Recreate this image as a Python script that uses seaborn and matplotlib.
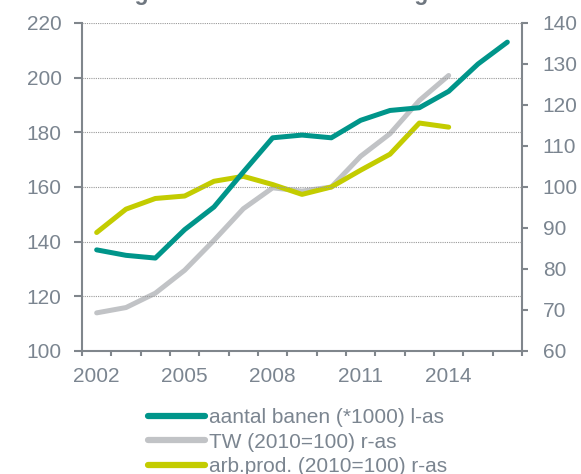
import matplotlib
matplotlib.use("Agg")
import matplotlib.pyplot as plt
import seaborn as sns
import pandas as pd
from matplotlib.lines import Line2D

years = list(range(2002, 2017))
banen = [137, 135, 134, 144.4, 152.7, 165.5, 178, 179, 178, 184.4, 188, 189, 195, 205, 213]
tw = [69.3, 70.6, 74.1, 79.7, 87, 94.7, 99.8, 99, 100, 107.5, 113, 121.1, 127.2]
arbprod = [88.9, 94.6, 97.2, 97.8, 101.4, 102.6, 100.6, 98.2, 100, 104.1, 108, 115.6, 114.6]
labels = ["aantal banen (*1000) l-as", "TW (2010=100) r-as", "arb.prod. (2010=100) r-as"]

teal = "#00958a"
grey = "#c1c3c6"
lime = "#c3cc00"
txt = "#7b8590"
axc = "#80868c"

df_l = pd.DataFrame({"jaar": years, "waarde": banen})
df_r = pd.DataFrame({"jaar": years[:len(tw)] * 2, "waarde": tw + arbprod,
                     "reeks": [labels[1]] * len(tw) + [labels[2]] * len(arbprod)})

sns.set_style("white")
plt.rcParams['font.family'] = ['Liberation Sans', 'DejaVu Sans']

fig = plt.figure(figsize=(5.81, 4.74), dpi=100)
ax = fig.add_axes([82 / 581, 1 - 351 / 474, 440 / 581, 328 / 474])
ax2 = ax.twinx()

sns.lineplot(data=df_l, x="jaar", y="waarde", ax=ax, color=teal, linewidth=3.6, legend=False)
sns.lineplot(data=df_r, x="jaar", y="waarde", hue="reeks", ax=ax2,
             palette=[grey, lime], linewidth=3.6, legend=False)
ax.set_zorder(ax2.get_zorder() + 1)
ax.patch.set_visible(False)

ax.set_xlim(2001.5, 2016.5)
ax.set_ylim(100, 220)
ax2.set_ylim(60, 140)
ax.set_yticks(range(100, 221, 20))
ax2.set_yticks(range(60, 141, 10))
ax.set_xticks([2002, 2005, 2008, 2011, 2014])
ax.set_xticks([y - 0.5 for y in years] + [2016.5], minor=True)
ax.set_xlabel("")
ax.set_ylabel("")
ax2.set_ylabel("")

ax.yaxis.grid(True, color="#9a9a9a", linestyle=(0, (1, 1)), linewidth=0.8)
ax.set_axisbelow(True)

for a in (ax, ax2):
    for s in a.spines.values():
        s.set_color(axc)
        s.set_linewidth(1.5)
    a.spines["top"].set_visible(False)
ax.spines["right"].set_visible(False)
ax2.spines["left"].set_visible(False)
ax2.spines["bottom"].set_visible(False)

ax.tick_params(axis="y", direction="out", length=5.5, width=1.5, color=axc,
               labelcolor=txt, labelsize=15, pad=9.2, left=True)
ax2.tick_params(axis="y", direction="out", length=4.5, width=1.5, color=axc,
                labelcolor=txt, labelsize=15, pad=10.5, right=True)
ax.tick_params(axis="x", which="major", length=0, labelcolor=txt, labelsize=15, pad=11.5)
ax.tick_params(axis="x", which="minor", direction="out", length=3.6, width=1.5, color=axc, bottom=True)

# title is cropped in the original, only its lowest pixels show
fig.text(0.494, 1.0, "Ongeveer even sterke banengroei", ha="center", va="baseline",
         fontsize=16.5, fontweight="bold", color="#6f7780")

handles = [Line2D([0], [0], color=c, linewidth=4.5) for c in (teal, grey, lime)]
fig.legend(handles, labels, loc="upper left", bbox_to_anchor=(140 / 581, 1 - 400 / 474),
           frameon=False, fontsize=15, labelcolor=txt, handlelength=2.7,
           handletextpad=0.2, labelspacing=0.26, borderaxespad=0)

fig.savefig("out.png", dpi=100)
